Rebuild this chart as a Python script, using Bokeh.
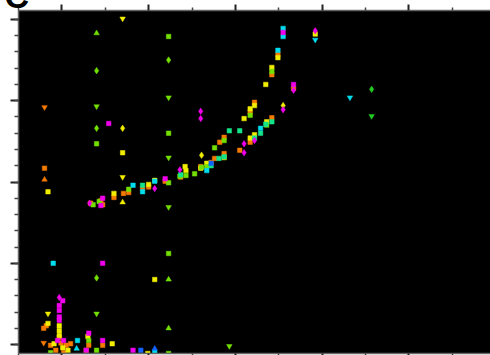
from bokeh.plotting import figure
from bokeh.models import LinearAxis, FixedTicker, Range1d, Title, ColumnDataSource, CustomJSTickFormatter
from bokeh.embed import file_html
from bokeh.resources import INLINE

# --- data: one group per colour; kind s=square d=diamond t=triangle v=inverted triangle
orange_x = [-20, -20, -20, 33, 45, 47, 60, 71, 77, 93, 100, 119, 137, 160, 172, 176, 182, 187, 187,
            205, 217, 222, 217, 242, 249, 242, 267,
            -21, -18, -21, -13, -1, 5, -7, 10, 2, -3, 31, 47, 28]
orange_y = [29.2, 21.7, 20.3, 17.4, 17.7, 17.2, 18.1, 18.6, 18.7, 19.2, 19.4, 20.1, 20.6, 21.9, 22.4, 22.9, 24.9, 25.5, 23.5,
            23.9, 24.9, 29.8, 28.6, 33.2, 35.7, 27.9, 31.5,
            2.0, 2.3, 0.2, -0.1, 0.2, -0.1, -0.7, 0.1, -1.0, 0.9, -0.1, -0.1, -0.7]
orange_k = list("vst") + ["s"] * 24 + list("ssvssssssssss")

yellow_x = [70, 70, 70, 70, 70, -16, -16, -16,
            60, 100, 107, 142, 143, 161, 160, 167, 187, 217, 210, 217, 222, 236, 242, 235, 249, 255, 292, 222,
            -3, -3, -3, -9, 1, 7, 30, 58, 99, 107]
yellow_y = [40.1, 26.6, 23.6, 20.6, 17.5, 18.8, 3.8, 2.6,
            18.6, 19.7, 20.2, 21.9, 21.4, 23.3, 21.7, 22.3, 23.0, 25.4, 27.8, 29.0, 29.4, 27.4, 34.1, 32.0, 35.3, 29.4, 38.2, 25.8,
            2.3, 1.7, 1.1, 0.1, -0.4, -0.7, 1.0, 0.1, -1.1, 8.0]
yellow_k = list("vdsvtsvs") + list("sssssdsssssssssssdss") + ["s"] * 10

lime_x = [40, 40, 40, 40, 40, 40, 40, 40,
          123, 123, 123, 123, 123, 123, 123, 123, 123, 123, 123, 193,
          36, 43, 77, 136, 143, 153, 167, 176, 187, 242, 217, 236, 161,
          -13, 31]
lime_y = [38.3, 33.7, 29.3, 26.6, 24.7, 8.2, 3.8, -0.7,
          37.9, 35.0, 30.4, 26.0, 23.0, 19.9, 16.9, 11.2, 8.0, 2.0, -1.1, -0.2,
          17.2, 17.6, 19.1, 20.7, 20.8, 21.0, 21.9, 24.2, 25.1, 33.6, 28.2, 27.0, 21.8,
          -1.0, 0.5]
lime_k = list("tdvdsdvs") + list("sdvsvsvsttsv") + ["s"] * 13 + ["s", "s"]

spring_x = [93, 137, 181, 187, 193, 205, 229, 235, 242, 222, 172]
spring_y = [19.6, 20.9, 22.9, 23.1, 26.3, 26.3, 26.0, 27.1, 27.4, 25.4, 22.0]
spring_k = ["s"] * 11

cyan_x = [255, 255, 292, 249, 229, 82, 93, 107, 167, -10, 18, 17, 107, 332]
cyan_y = [38.9, 37.9, 37.5, 36.2, 26.6, 19.6, 18.8, 20.1, 21.4, 10.0, 0.5, -0.5, -0.9, 30.4]
cyan_k = list("ssvssssssssts") + ["v"]

blue_x = [172, 91, 107]
blue_y = [22.3, -0.7, -0.5]
blue_k = ["s", "s", "t"]

magenta_x = [255, 292, 267, 267, 255, 160, 160, 54, 210, 210, 222, 119, 107, 136, 32, 47, 45, 47,
             -3, 1, -3, -3, -3, -3,
             -5, 2, 31, 47, 28, 82]
magenta_y = [38.4, 38.6, 32.0, 31.3, 28.9, 28.7, 27.8, 27.2, 24.7, 23.6, 25.1, 20.4, 19.2, 21.5, 17.4, 18.0, 17.1, 10.0,
             5.8, 5.4, 4.8, 4.2, 3.4, 3.0,
             0.5, 0.5, 1.4, 0.5, -0.7, -0.7]
magenta_k = list("sdsddddsdddsdddsss") + list("dsssss") + ["s"] * 6

green_x = [357, 357]
green_y = [31.4, 28.1]
green_k = ["d", "v"]

# tick positions of the frame axes
x_major = [0, 100, 200, 300, 400]
x_minor = [-50, 50, 150, 250, 350, 450]
y_major = [0, 10, 20, 30, 40]
y_minor = [v / 10 for v in range(0, 420, 20)]

# the panel letter sits above the frame; the canvas is taller and shifted up so that
# only the lower part of the letter shows at the top edge of the page
SHIFT = 40
p = figure(width=490, height=355 + SHIFT, output_backend="svg", toolbar_location=None,
           x_range=Range1d(-50, 494), y_range=Range1d(-1.1, 41.1),
           x_axis_location=None, y_axis_location=None,
           min_border_left=18, min_border_top=10 + SHIFT, min_border_right=0, min_border_bottom=2,
           background_fill_color="black", border_fill_color="white", outline_line_color=None)
p.margin = (-SHIFT, 0, 0, 0)
p.xgrid.visible = False
p.ygrid.visible = False

blank = CustomJSTickFormatter(code="return '';")


def frame_axis(ticks, minor, out_major, out_minor):
    ax = LinearAxis(ticker=FixedTicker(ticks=ticks, minor_ticks=minor), formatter=blank,
                    major_tick_in=0, minor_tick_in=0,
                    major_tick_out=out_major, minor_tick_out=out_minor,
                    major_label_text_font_size="0px", major_label_standoff=0,
                    axis_line_color="#666666", axis_line_width=1.5,
                    major_tick_line_color="#222222", major_tick_line_width=2,
                    minor_tick_line_color="#444444", minor_tick_line_width=1.5)
    return ax


p.add_layout(frame_axis(x_major, x_minor, 6, 3), "above")
p.add_layout(frame_axis(x_major, x_minor, 2, 2), "below")
p.add_layout(frame_axis(y_major, y_minor, 8, 4), "left")

p.add_layout(Title(text="C", align="left", offset=-14, standoff=-20, vertical_align="bottom",
                   text_font="Liberation Sans", text_font_style="bold", text_font_size="34px",
                   text_color="black"), "above")

marker_of = {"s": "square", "d": "diamond", "t": "triangle", "v": "inverted_triangle"}
size_of = {"s": 4.5, "d": 6.5, "t": 5.5, "v": 5.5}

groups = [
    (orange_x, orange_y, orange_k, "#F57A00"),
    (yellow_x, yellow_y, yellow_k, "#F2EE00"),
    (lime_x, lime_y, lime_k, "#74E000"),
    (spring_x, spring_y, spring_k, "#14E48A"),
    (cyan_x, cyan_y, cyan_k, "#00DDEE"),
    (blue_x, blue_y, blue_k, "#1462FF"),
    (magenta_x, magenta_y, magenta_k, "#F000EC"),
    (green_x, green_y, green_k, "#22CC22"),
]

for xs, ys, ks, col in groups:
    for k in "sdtv":
        sel = [i for i, kk in enumerate(ks) if kk == k]
        if not sel:
            continue
        src = ColumnDataSource(dict(x=[xs[i] for i in sel], y=[ys[i] for i in sel]))
        p.scatter("x", "y", source=src, marker=marker_of[k], size=size_of[k],
                  fill_color=col, line_color=col, line_width=0.5)

open("out.html", "w").write(file_html(p, INLINE))
